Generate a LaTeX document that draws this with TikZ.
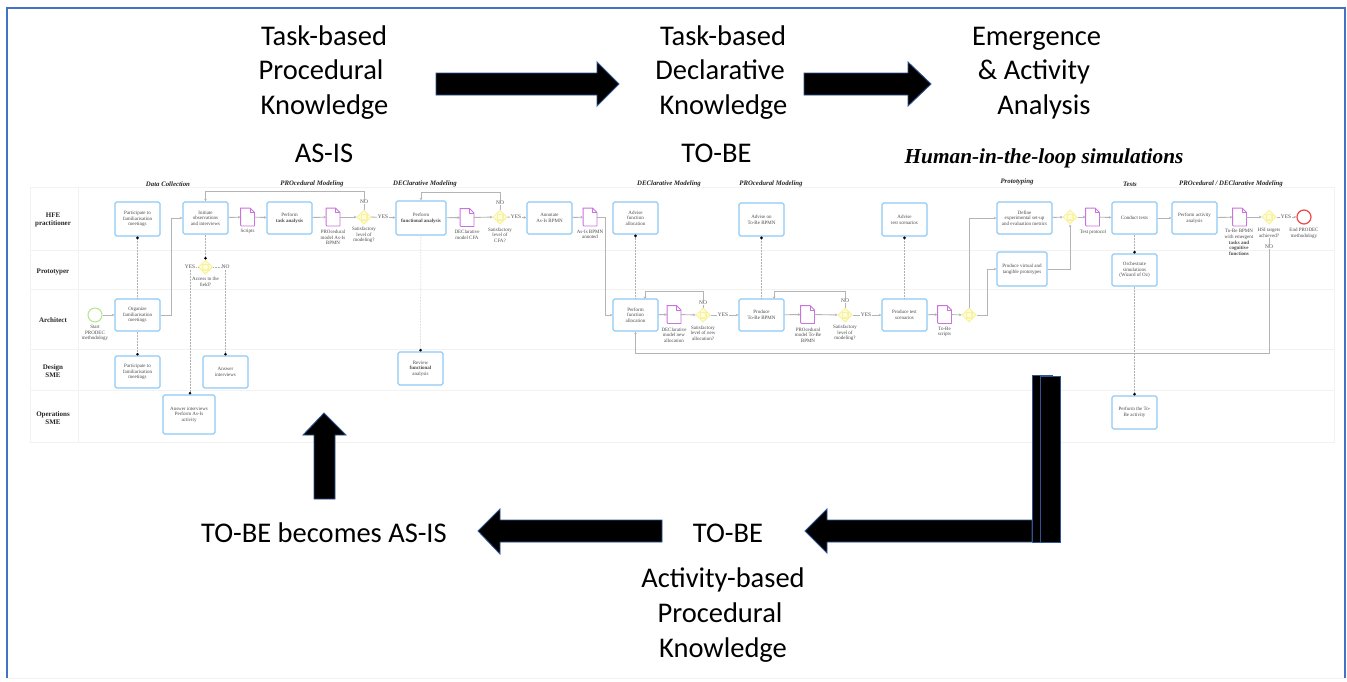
\documentclass[tikz,border=0pt]{standalone}
\usepackage{fontspec}
\setmainfont{Liberation Serif}
\newfontfamily\bigfont{Carlito}
\usetikzlibrary{shapes.geometric,arrows.meta,calc}
\definecolor{frameblue}{HTML}{4472C4}
\definecolor{edgeblue}{HTML}{2F5597}
\definecolor{boxblue}{HTML}{8CC8F4}
\definecolor{docpurple}{HTML}{C874DC}
\definecolor{gatefill}{HTML}{FFFDE0}
\definecolor{gateline}{HTML}{F8F29A}
\definecolor{flowgrey}{HTML}{B4B4B4}
\definecolor{dotgrey}{HTML}{B0B0B0}
\definecolor{lanegrey}{HTML}{F2F2F2}
\definecolor{smalltext}{HTML}{4A4A4A}
\definecolor{startgreen}{HTML}{B4E48C}
\definecolor{stopred}{HTML}{F04646}
\tikzset{
  x=1pt,y=-1pt,
  taskbox/.style={draw=boxblue,line width=1.1pt,rounded corners=1.6pt,fill=white,inner sep=0pt,align=center,text=smalltext,font=\fontsize{5}{5.6}\selectfont},
  smalllabel/.style={inner sep=0pt,align=center,text=smalltext,font=\fontsize{5}{5.6}\selectfont},
  flaglabel/.style={inner sep=0.6pt,fill=white,text=smalltext,font=\fontsize{5.4}{6}\selectfont},
  docbox/.style={minimum width=13.5pt,minimum height=17.5pt,inner sep=0pt},
  docline/.style={draw=docpurple,line width=0.9pt,fill=white,line join=round},
  gateway/.style={diamond,draw=gateline,fill=gatefill,line width=1pt,minimum width=14pt,minimum height=14pt,inner sep=0pt},
  flow/.style={draw=flowgrey,line width=0.9pt,-{Stealth[length=2.6pt,width=2.6pt]}},
  plainflow/.style={draw=flowgrey,line width=0.9pt},
  assoc/.style={draw=dotgrey,line width=0.5pt,densely dotted,-{Circle[length=2.6pt,black]}},
  assocplain/.style={draw=dotgrey,line width=0.5pt,densely dotted},
  lanerule/.style={draw=lanegrey,line width=0.6pt},
  lanehead/.style={inner sep=0pt,align=center,text=black!85,font=\fontsize{7}{8}\selectfont\bfseries},
  sectionhead/.style={inner sep=0pt,text=black!85,font=\fontsize{6.8}{8}\selectfont\bfseries\itshape},
  bigtext/.style={inner sep=0pt,anchor=base,text=black,font=\fontsize{28.5}{32}\selectfont\bigfont},
  blockarrow/.style={fill=black,draw=edgeblue,line width=0.9pt,line join=miter},
}
\newcommand{\taskat}[6]{\node[taskbox,minimum width={(#4-#2)*1pt},minimum height={(#5-#3)*1pt}] (#1) at ({(#2+#4)/2},{(#3+#5)/2}) {#6};}
\newcommand{\docat}[3]{\node[docbox] (#1) at (#2,#3) {};
  \draw[docline] (#1.south west) -- (#1.north west) -- ($(#1.north east)+(-4.5,0)$) -- ($(#1.north east)+(0,4.5)$) -- (#1.south east) [rounded corners=1pt] -- cycle;
  \draw[docline,fill=none,line width=0.6pt] ($(#1.north east)+(-4.5,0)$) -- ($(#1.north east)+(-4.5,4.5)$) -- ($(#1.north east)+(0,4.5)$);}
\newcommand{\gateat}[3]{\node[gateway] (#1) at (#2,#3) {};
  \draw[gateline,line width=0.7pt] (#1.center) circle (3pt);
  \draw[gateline,line width=0.5pt] ($(#1.center)+(-3,-3)$) rectangle ($(#1.center)+(3,3)$);}
\begin{document}
\begin{tikzpicture}
\useasboundingbox (0,0) rectangle (1347,681);
\fill[white] (0,0) rectangle (1347,681);
% outer frame
\draw[draw=frameblue,line width=1.6pt] (7,678) -- (7,8) -- (1345,8) -- (1345,678);
\draw[draw=lanegrey,line width=0.8pt] (7,678) -- (1345,678);

% swimlanes
\draw[lanerule] (30,187) rectangle (1334,442);
\draw[lanerule] (78,187) -- (78,442);
\draw[lanerule] (30,250) -- (1334,250);
\draw[lanerule] (30,289) -- (1334,289);
\draw[lanerule] (30,349) -- (1334,349);
\draw[lanerule] (30,390) -- (1334,390);
\node[lanehead] (laneA) at (53,220) {HFE\\practitioner};
\node[lanehead] (laneB) at (53,272) {Prototyper};
\node[lanehead] (laneC) at (53,320) {Architect};
\node[lanehead] (laneD) at (53,371) {Design\\SME};
\node[lanehead] (laneE) at (53,418) {Operations\\SME};

% section titles
\node[sectionhead] (secA) at (168,184) {Data Collection};
\node[sectionhead] (secB) at (312,184) {PROcedural Modeling};
\node[sectionhead] (secC) at (425,184) {DEClarative Modeling};
\node[sectionhead] (secD) at (669,184) {DEClarative Modeling};
\node[sectionhead] (secE) at (771,184) {PROcedural Modeling};
\node[sectionhead] (secF) at (1017,182) {Prototyping};
\node[sectionhead] (secG) at (1130,184) {Tests};
\node[sectionhead] (secH) at (1231,184) {PROcedural / DEClarative Modeling};

% tasks
\taskat{partA}{115}{202}{160}{236}{Participate to\\familiarisation\\meetings}
\taskat{init}{183}{202}{228}{234}{Initiate\\observations\\and interviews}
\taskat{taskan}{267}{202}{312}{234}{Perform\\\textbf{task analysis}}
\taskat{funcan}{396}{201}{446}{235}{Perform\\\textbf{functional analysis}}
\taskat{annot}{527}{202}{572}{234}{Annotate\\As-Is BPMN}
\taskat{advfn}{613}{202}{658}{234}{Advise\\function\\allocation}
\taskat{advbp}{739}{203}{784}{236}{Advise on\\To-Be BPMN}
\taskat{advts}{882}{203}{927}{236}{Advise\\test scenarios}
\taskat{defn}{997}{202}{1052}{234}{Define\\experimental set-up\\and evaluation metrics}
\taskat{conduct}{1112}{202}{1157}{234}{Conduct tests}
\taskat{actan}{1172}{202}{1217}{234}{Perform activity\\analysis}
\taskat{virt}{997}{252}{1047}{286}{Produce virtual and\\tangible prototypes}
\taskat{orch}{1112}{254}{1157}{286}{Orchestrate\\simulations\\(Wizard of Oz)}
\taskat{org}{115}{299}{160}{331}{Organize\\familiarisation\\meetings}
\taskat{pfn}{613}{299}{658}{331}{Perform\\function\\allocation}
\taskat{prodbp}{739}{299}{784}{331}{Produce\\To-Be BPMN}
\taskat{prodts}{882}{299}{927}{331}{Produce test\\scenarios}
\taskat{partB}{115}{356}{160}{388}{Participate to\\familiarisation\\meetings}
\taskat{ansA}{203}{356}{248}{388}{Answer\\interviews}
\taskat{review}{398}{352}{443}{385}{Review\\\textbf{functional}\\analysis}
\taskat{ansB}{163}{395}{215}{434}{Answer interviews\\Perform As-Is\\activity}
\taskat{tobe}{1112}{396}{1157}{429}{Perform the To-\\Be activity}

% events
\node[circle,draw=startgreen,line width=1pt,minimum size=14pt,inner sep=0pt,fill=white] (start) at (95,315) {};
\node[circle,draw=stopred,line width=1.2pt,minimum size=14pt,inner sep=0pt,fill=white] (stop) at (1304,217) {};
\node[smalllabel] (startl) at (95,333) {Start\\PRODEC\\methodology};
\node[smalllabel] (stopl) at (1304,233) {End PRODEC\\methodology};

% documents
\docat{dA}{247.5}{217}
\docat{dB}{333}{217}
\docat{dC}{467}{217.5}
\docat{dD}{590}{217}
\docat{dE}{674}{314.5}
\docat{dF}{807.5}{314.5}
\docat{dG}{944.5}{314.5}
\docat{dH}{1092.5}{217}
\docat{dI}{1239.5}{217}
\node[smalllabel] (dAl) at (247.5,231) {Scripts};
\node[smalllabel] (dBl) at (333,237.5) {PROcedural\\model As-Is\\BPMN};
\node[smalllabel] (dCl) at (467,234.5) {DEClarative\\model CFA};
\node[smalllabel] (dDl) at (590,234.5) {As-Is BPMN\\annoted};
\node[smalllabel] (dEl) at (674,335) {DEClarative\\model new\\allocation};
\node[smalllabel] (dFl) at (808,335) {PROcedural\\model To-Be\\BPMN};
\node[smalllabel] (dGl) at (944.5,332) {To-Be\\scripts};
\node[smalllabel] (dHl) at (1093,232) {Test protocol};
\node[smalllabel] (dIl) at (1239,242.5) {To-Be BPMN\\with emergent\\\textbf{tasks and}\\\textbf{cognitive}\\\textbf{functions}};

% gateways
\gateat{gA}{364}{217}
\gateat{gB}{500}{217}
\gateat{gC}{205.5}{267}
\gateat{gD}{703}{315}
\gateat{gE}{845}{315}
\gateat{gF}{969}{315}
\gateat{gG}{1070}{217}
\gateat{gH}{1269}{217}
\node[smalllabel] (gAl) at (364,235) {Satisfactory\\level of\\modeling?};
\node[smalllabel] (gBl) at (500,235) {Satisfactory\\level of\\CFA?};
\node[smalllabel] (gCl) at (205.5,282) {Access to the\\field?};
\node[smalllabel] (gDl) at (703,333) {Satisfactory\\level of new\\allocation?};
\node[smalllabel] (gEl) at (845,333) {Satisfactory\\level of\\modeling?};
\node[smalllabel] (gHl) at (1269,233) {HSI targets\\achieved?};

% sequence flows
\draw[flow] (start) -- (org);
\draw[flow] (org.east) -- (171,315) |- (init.west);
\draw[flow] (init) -- (dA);
\draw[flow] (dA) -- (taskan);
\draw[flow] (taskan) -- (dB);
\draw[flow] (dB) -- (gA);
\draw[flow] (gA.north) -- (364,191) -- (205.5,191) -- (init.north);
\node[flaglabel] (noA) at (364,202) {NO};
\draw[flow] (gA) -- (funcan);
\node[flaglabel] (yesA) at (383,217) {YES};
\draw[flow] (funcan) -- (dC);
\draw[flow] (dC) -- (gB);
\draw[flow] (gB.north) -- (500,192) -- (421,192) -- (funcan.north);
\node[flaglabel] (noB) at (500,203) {NO};
\draw[flow] (gB) -- (annot);
\node[flaglabel] (yesB) at (516,217) {YES};
\draw[flow] (annot) -- (dD);
\draw[flow] (dD.east) -- (605,217) |- (pfn.west);
\draw[flow] (pfn) -- (dE);
\draw[flow] (dE) -- (gD);
\draw[flow] (gD.north) -- (703,291) -- (645,291) -- (645,299);
\node[flaglabel] (noD) at (703,303) {NO};
\draw[flow] (gD) -- (prodbp);
\node[flaglabel] (yesD) at (723,315) {YES};
\draw[flow] (prodbp) -- (dF);
\draw[flow] (dF) -- (gE);
\draw[flow] (gE.north) -- (845,291) -- (774,291) -- (774,299);
\node[flaglabel] (noE) at (845,301) {NO};
\draw[flow] (gE) -- (prodts);
\node[flaglabel] (yesE) at (866,315) {YES};
\draw[flow] (prodts) -- (dG);
\draw[flow] (dG) -- (gF);
\draw[flow] (gF.north) |- (defn.west);
\draw[flow] (gF.east) -- (987,315) |- (virt.west);
\draw[flow] (defn) -- (gG);
\draw[flow] (virt.east) -| (gG.south);
\draw[flow] (gG) -- (dH);
\draw[flow] (dH) -- (conduct);
\draw[flow] (conduct) -- (actan);
\draw[flow] (actan) -- (dI);
\draw[flow] (dI) -- (gH);
\draw[flow] (gH) -- (stop);
\node[flaglabel] (yesH) at (1286,217) {YES};
\draw[flow] (gHl.south) -- (1269,353) -- (635.5,353) -- (pfn.south);
\node[flaglabel] (noH) at (1269,247) {NO};

% associations
\draw[assoc] (org.north) -- (partA.south);
\draw[assoc] (org.south) -- (partB.north);
\draw[assoc] (init.south) -- (gC.north);
\node[flaglabel] (yesC) at (190,267) {YES};
\node[flaglabel] (noC) at (225.5,267) {NO};
\draw[assocplain] (gC.west) -- (yesC.east);
\draw[assocplain] (gC.east) -- (noC.west);
\draw[assoc] (yesC.south) -- (yesC.south |- ansB.north);
\draw[assoc] (noC.south) -- (ansA.north);
\draw[assoc] (funcan.south) -- (review.north);
\draw[assoc] (pfn.north) -- (advfn.south);
\draw[assoc] (prodbp.north) -- (advbp.south);
\draw[assoc] (prodts.north) -- (advts.south);
\draw[assoc] (conduct.south) -- (orch.north);
\draw[assoc] (orch.south) -- (tobe.north);

% large black arrows
\draw[blockarrow] (436,73) -- (597,73) -- (597,62) -- (619,84) -- (597,106) -- (597,95) -- (436,95) -- cycle;
\draw[blockarrow] (804,73) -- (908,73) -- (908,62) -- (931,84) -- (908,106) -- (908,95) -- (804,95) -- cycle;
\draw[blockarrow] (324,413) -- (346,435) -- (335,435) -- (335,499) -- (314,499) -- (314,435) -- (303,435) -- cycle;
\draw[blockarrow] (478,531) -- (500,509) -- (500,520) -- (662,520) -- (662,542) -- (500,542) -- (500,554) -- cycle;
\draw[blockarrow] (805,531) -- (827,509) -- (827,520) -- (1032,520) -- (1032,542) -- (827,542) -- (827,553) -- cycle;
\draw[blockarrow] (1032,375.5) -- (1052,375.5) -- (1052,542) -- (1032,542) -- cycle;
\draw[blockarrow] (1040,376) rectangle (1060,542);

% large texts
\node[bigtext] (tA) at (324,45) {Task-based};
\node[bigtext] (tB) at (321,79) {Procedural};
\node[bigtext] (tC) at (324.5,114) {Knowledge};
\node[bigtext] (tD) at (324,162) {AS-IS};
\node[bigtext] (tE) at (723,45) {Task-based};
\node[bigtext] (tF) at (720,79) {Declarative};
\node[bigtext] (tG) at (723.5,114) {Knowledge};
\node[bigtext] (tH) at (716.5,162) {TO-BE};
\node[bigtext] (tI) at (1036.5,45) {Emergence};
\node[bigtext] (tJ) at (1034,79) {\& Activity};
\node[bigtext] (tK) at (1044,114) {Analysis};
\node[inner sep=0pt,anchor=base,font=\fontsize{21.3}{24}\selectfont\bfseries\itshape] (tL) at (1044,163) {Human-in-the-loop simulations};
\node[bigtext] (tM) at (324,542) {TO-BE becomes AS-IS};
\node[bigtext] (tN) at (728,542) {TO-BE};
\node[bigtext] (tO) at (723,587) {Activity-based};
\node[bigtext] (tP) at (720,622) {Procedural};
\node[bigtext] (tQ) at (723,657) {Knowledge};
\end{tikzpicture}
\end{document}
